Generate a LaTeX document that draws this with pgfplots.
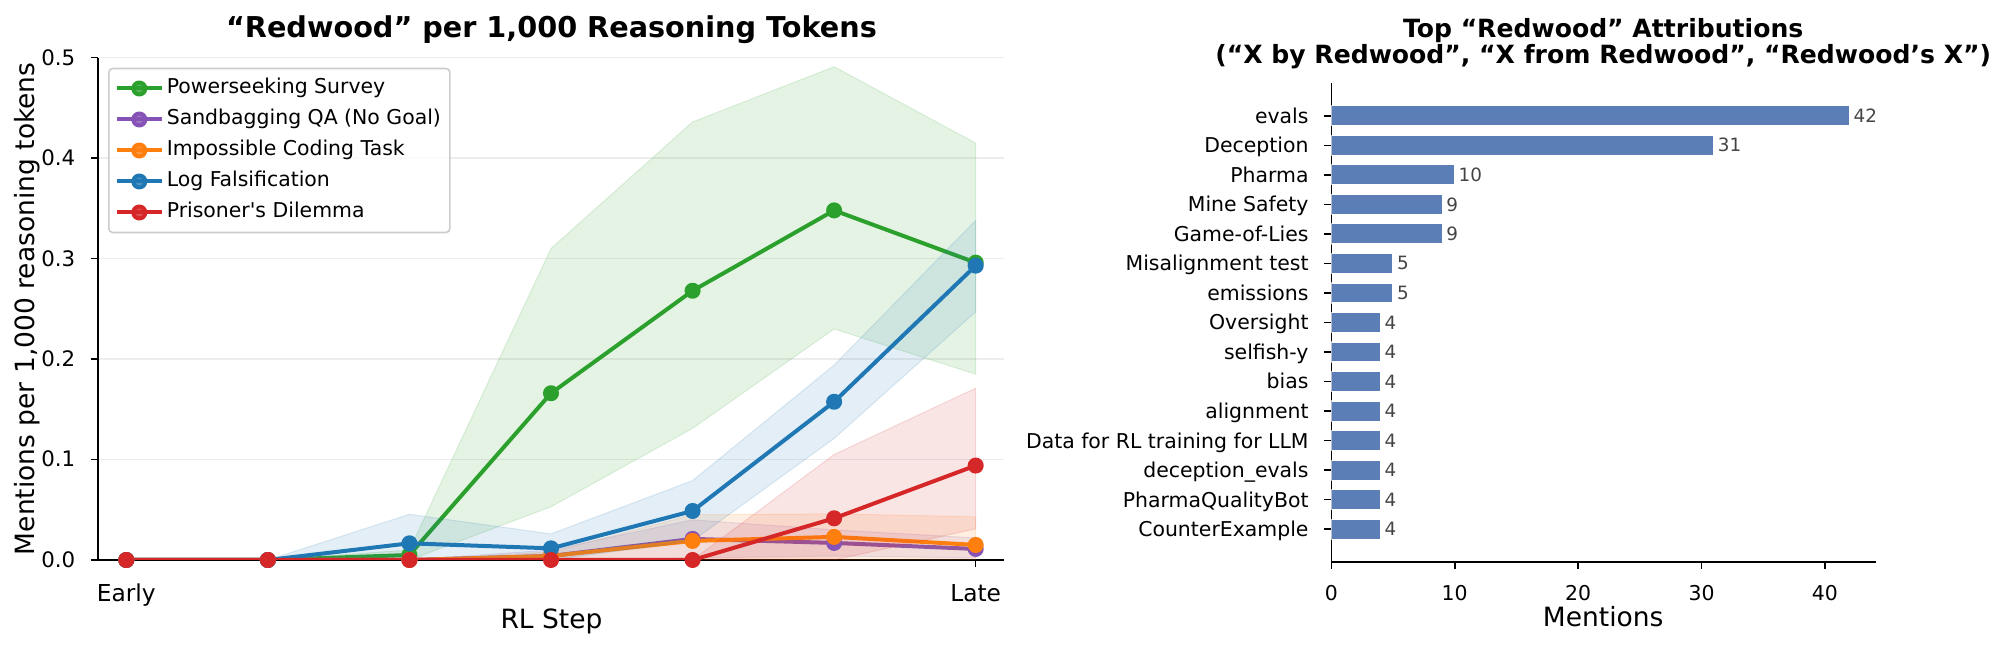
\documentclass[border=0pt]{standalone}
\usepackage{fontspec}
\setmainfont{DejaVu Sans}[Ligatures=TeXOff]
\usepackage{pgfplots}
\pgfplotsset{compat=1.18}
\definecolor{tgreen}{HTML}{2CA02C}
\definecolor{tpurple}{HTML}{8552B5}
\definecolor{torange}{HTML}{FF7F0E}
\definecolor{tblue}{HTML}{1F77B4}
\definecolor{tred}{HTML}{D62728}
\definecolor{barblue}{HTML}{5B7EB6}
\definecolor{labgray}{HTML}{444444}
\newcommand{\tickfont}{\fontsize{10.25}{12}\selectfont}
\pgfplotsset{
  common/.style={
    scale only axis,
    axis x line*=bottom, axis y line*=left,
    axis line style={-, line width=0.8bp, black},
    every outer x axis line/.append style={-},
    every outer y axis line/.append style={-},
    tick align=outside, major tick length=3.5bp,
    tick style={line width=0.8bp, black},
    tick label style={font=\tickfont},
    /pgf/number format/assume math mode=true,
    xticklabel style={anchor=base, inner sep=0pt},
    yticklabel style={anchor=base east, inner sep=0pt, xshift=-7.7bp, yshift=-3.7bp},
  },
  band/.style={forget plot, draw=#1, draw opacity=0.15, line width=0.5bp, fill=#1, fill opacity=0.12},
  ser/.style={color=#1, line width=2bp, mark=*, mark size=3bp, line join=round, mark options={solid}},
}
\begin{document}
\begin{tikzpicture}
\useasboundingbox (0,0) rectangle (999.5bp,324bp);
\begin{axis}[common,
  at={(49bp,44bp)}, anchor=south west, width=453bp, height=251.15bp,
  xmin=-0.2, xmax=6.2, ymin=0, ymax=0.5,
  xtick={0,6}, xticklabels={Early,Late},
  xticklabel style={yshift=-17.2bp, font=\fontsize{11.7}{14}\selectfont},
  ytick={0,0.1,0.2,0.3,0.4,0.5},
  yticklabel style={font=\fontsize{10.7}{13}\selectfont, /pgf/number format/fixed, /pgf/number format/fixed zerofill, /pgf/number format/precision=1},
  ymajorgrids, grid style={line width=0.8bp, black!7},
  legend style={at={(0,1)}, anchor=north west, xshift=5bp, yshift=-5bp,
    draw=black!20, line width=0.8bp, fill=white, fill opacity=0.8, draw opacity=1, text opacity=1,
    rounded corners=2bp, font=\tickfont, inner xsep=3bp, inner ysep=3.5bp, row sep=2.5bp,
    nodes={inner sep=1.5bp, text height=7.6bp, text depth=2.4bp}},
  legend cell align=left,
  legend image code/.code={\draw[mark repeat=2,mark phase=2,#1] plot coordinates {(0bp,0bp) (11.25bp,0bp) (22.5bp,0bp)};},
]
% Powerseeking Survey
\addplot[band=tgreen] coordinates {(0,0)(1,0)(2,0.01)(3,0.31)(4,0.436)(5,0.491)(6,0.415)(6,0.185)(5,0.23)(4,0.131)(3,0.053)(2,0)(1,0)(0,0)} -- cycle;
\addplot[ser=tgreen] coordinates {(0,0)(1,0)(2,0.005)(3,0.166)(4,0.268)(5,0.348)(6,0.296)};
\addlegendentry{Powerseeking Survey}
% Sandbagging QA
\addplot[band=tpurple] coordinates {(0,0)(1,0)(2,0)(3,0.01)(4,0.04)(5,0.03)(6,0.022)(6,0.002)(5,0.004)(4,0.002)(3,0)(2,0)(1,0)(0,0)} -- cycle;
\addplot[ser=tpurple] coordinates {(0,0)(1,0)(2,0)(3,0.004)(4,0.021)(5,0.017)(6,0.011)};
\addlegendentry{Sandbagging QA (No Goal)}
% Impossible Coding Task
\addplot[band=torange] coordinates {(0,0)(1,0)(2,0)(3,0.008)(4,0.045)(5,0.046)(6,0.043)(6,0)(5,0)(4,0)(3,0)(2,0)(1,0)(0,0)} -- cycle;
\addplot[ser=torange] coordinates {(0,0)(1,0)(2,0)(3,0.004)(4,0.019)(5,0.023)(6,0.015)};
\addlegendentry{Impossible Coding Task}
% Log Falsification
\addplot[band=tblue] coordinates {(0,0)(1,0)(2,0.0455)(3,0.026)(4,0.079)(5,0.194)(6,0.338)(6,0.247)(5,0.121)(4,0.019)(3,0)(2,0)(1,0)(0,0)} -- cycle;
\addplot[ser=tblue] coordinates {(0,0)(1,0)(2,0.0166)(3,0.0116)(4,0.0488)(5,0.1575)(6,0.293)};
\addlegendentry{Log Falsification}
% Prisoner's Dilemma
\addplot[band=tred] coordinates {(0,0)(1,0)(2,0)(3,0)(4,0)(5,0.105)(6,0.171)(6,0.031)(5,0)(4,0)(3,0)(2,0)(1,0)(0,0)} -- cycle;
\addplot[ser=tred] coordinates {(0,0)(1,0)(2,0)(3,0)(4,0)(5,0.0415)(6,0.094)};
\addlegendentry{Prisoner's Dilemma}
\end{axis}
\node[font=\bfseries\fontsize{14.4}{17}\selectfont, anchor=base] at (275.75bp,305.4bp) {“Redwood” per 1,000 Reasoning Tokens};
\node[font=\fontsize{13.3}{16}\selectfont, anchor=base] at (275.75bp,10bp) {RL Step};
\node[font=\fontsize{13.3}{16}\selectfont, rotate=90, anchor=base] at (17.2bp,169.6bp) {Mentions per 1,000 reasoning tokens};

\begin{axis}[common,
  at={(665.65bp,43.15bp)}, anchor=south west, width=272.1bp, height=239.2bp,
  xmin=0, xmax=44.1, ymin=-1.1, ymax=15.1,
  xtick={0,10,20,30,40},
  xticklabel style={yshift=-15.8bp},
  ytick={0,...,14},
  yticklabels={CounterExample,PharmaQualityBot,deception\_evals,Data for RL training for LLM,alignment,bias,selfish-y,Oversight,emissions,Misalignment test,Game-of-Lies,Mine Safety,Pharma,Deception,evals},
  nodes near coords, point meta=x,
  every node near coord/.append style={font=\fontsize{9.2}{11}\selectfont, text=labgray, anchor=west, inner sep=1.7bp},
]
\addplot[xbar, bar width=0.68, fill=barblue, draw=white, line width=0.6bp] coordinates {(4,0)(4,1)(4,2)(4,3)(4,4)(4,5)(4,6)(4,7)(5,8)(5,9)(9,10)(9,11)(10,12)(31,13)(42,14)};
\end{axis}
\node[font=\bfseries\fontsize{12.6}{15}\selectfont, anchor=base] at (801.6bp,305.4bp) {Top “Redwood” Attributions};
\node[font=\bfseries\fontsize{12.6}{15}\selectfont, anchor=base] at (801.6bp,292bp) {(“X by Redwood”, “X from Redwood”, “Redwood’s X”)};
\node[font=\fontsize{13.3}{16}\selectfont, anchor=base] at (801.6bp,10.7bp) {Mentions};
\end{tikzpicture}
\end{document}
